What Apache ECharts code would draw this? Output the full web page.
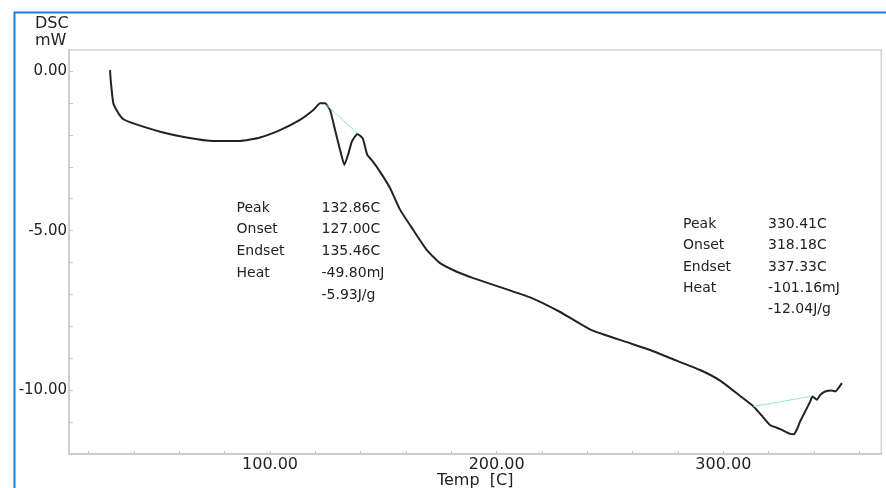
<!DOCTYPE html>
<html>
<head>
<meta charset="utf-8">
<script src="https://cdn.jsdelivr.net/npm/echarts@6/dist/echarts.min.js"></script>
<style>
html,body{margin:0;padding:0;background:#fff;}
#chart{width:886px;height:488px;}
</style>
</head>
<body>
<div id="chart"></div>
<script>
// ---- data ----
const temps = [29.4, 29.7, 30.85, 33.1, 35.3, 39.7, 51.5, 63.2, 75.0, 86.8, 95.6, 104.4, 113.2, 119.1, 122.1, 124.3, 126.5, 128.7, 130.9, 132.8, 134.6, 136.1, 138.5, 140.9, 142.9, 144.9, 148.5, 153.0, 157.4, 163.2, 169.2, 175.0, 182.4, 189.7, 201.5, 215.0, 228.0, 241.6, 256.7, 268.0, 276.7, 289.5, 298.6, 307.4, 313.3, 317.0, 320.6, 325.1, 329.5, 331.2, 332.4, 333.9, 336.1, 338.3, 339.3, 341.3, 342.7, 344.9, 347.9, 349.4, 352.3];
const dsc = [0.03, -0.28, -1.01, -1.32, -1.51, -1.64, -1.90, -2.08, -2.19, -2.19, -2.08, -1.85, -1.53, -1.22, -1.01, -1.01, -1.22, -1.85, -2.47, -2.94, -2.58, -2.21, -1.97, -2.11, -2.63, -2.79, -3.15, -3.67, -4.35, -4.98, -5.61, -6.02, -6.29, -6.49, -6.77, -7.10, -7.55, -8.11, -8.48, -8.75, -9.00, -9.36, -9.70, -10.18, -10.51, -10.80, -11.09, -11.22, -11.37, -11.38, -11.24, -10.98, -10.67, -10.36, -10.20, -10.30, -10.15, -10.04, -10.01, -10.04, -9.78];
const base1T = [125.0, 138.5];
const base1V = [-1.07, -1.95];
const base2T = [313.3, 339.0];
const base2V = [-10.51, -10.19];
const xTickLabels = [100, 200, 300];
const yTickLabels = [0, -5, -10];
const annNames = ['Peak', 'Onset', 'Endset', 'Heat', ''];
const ann1Values = ['132.86C', '127.00C', '135.46C', '-49.80mJ', '-5.93J/g'];
const ann2Values = ['330.41C', '318.18C', '337.33C', '-101.16mJ', '-12.04J/g'];
const yTitle = ['DSC', 'mW'];
const xTitle = 'Temp  [C]';

const FONT = '"DejaVu Sans", "Liberation Sans", Arial, sans-serif';
const zip = (a, b) => a.map((v, i) => [v, b[i]]);

const graphics = [];
graphics.push({type: 'rect', left: 12, top: 10, z: 100, silent: true,
  shape: {x: 0, y: 0, width: 900, height: 520},
  style: {fill: 'none', stroke: '#1f7ed2', lineWidth: 2}});
yTitle.forEach((t, i) => graphics.push({type: 'text', x: 35, y: 24 + i * 17,
  style: {text: t, font: '16px ' + FONT, fill: '#222', align: 'left', verticalAlign: 'middle'}}));
function block(x1, x2, y0, dy, values) {
  annNames.forEach((n, i) => {
    if (n) graphics.push({type: 'text', x: x1, y: y0 + i * dy,
      style: {text: n, font: '14px ' + FONT, fill: '#222', align: 'left', verticalAlign: 'middle'}});
    graphics.push({type: 'text', x: x2, y: y0 + i * dy,
      style: {text: values[i], font: '14px ' + FONT, fill: '#222', align: 'left', verticalAlign: 'middle'}});
  });
}
block(236.5, 321.5, 208, 21.8, ann1Values);
block(683, 768, 224.5, 21.3, ann2Values);

const chart = echarts.init(document.getElementById('chart'), null, {renderer: 'canvas'});
chart.setOption({
  animation: false,
  backgroundColor: '#fff',
  grid: {left: 69, top: 50, right: 4.7, bottom: 34, show: true, borderColor: '#d2d2d2', borderWidth: 1.5,
    containLabel: false, outerBoundsMode: 'none'},
  xAxis: {
    type: 'value', min: 11.3, max: 369.7, splitNumber: 18, minInterval: 20, maxInterval: 20,
    name: xTitle, nameLocation: 'middle', nameGap: 19, nameMoveOverlap: false,
    nameTextStyle: {fontFamily: FONT, fontSize: 16, color: '#222'},
    axisLine: {show: true, onZero: false, lineStyle: {color: '#c8c8c8', width: 1.5}},
    axisTick: {show: true, inside: true, length: 3, lineStyle: {color: '#c8c8c8'}},
    splitLine: {show: false},
    axisLabel: {margin: 3, fontFamily: FONT, fontSize: 16, color: '#222', showMinLabel: false, showMaxLabel: false,
      formatter: v => xTickLabels.some(t => Math.abs(t - v) < 1e-6) ? v.toFixed(2) : ''}
  },
  yAxis: {
    type: 'value', min: -12, max: 0.66, interval: 1,
    axisLine: {show: true, onZero: false, lineStyle: {color: '#c8c8c8', width: 1.5}},
    axisTick: {show: true, inside: true, length: 4, lineStyle: {color: '#c8c8c8'}},
    splitLine: {show: false},
    axisLabel: {margin: 2, fontFamily: FONT, fontSize: 15, color: '#222', showMaxLabel: false,
      formatter: v => yTickLabels.some(t => Math.abs(t - v) < 1e-6) ? (Math.abs(v) < 1e-9 ? '0.00' : v.toFixed(2)) : ''}
  },
  series: [
    {type: 'line', data: zip(base1T, base1V), symbol: 'none', lineStyle: {color: '#8fe3e6', width: 1}, z: 3},
    {type: 'line', data: zip(base2T, base2V), symbol: 'none', lineStyle: {color: '#8fe3e6', width: 1}, z: 3},
    {type: 'line', data: zip(temps, dsc), symbol: 'none', smooth: 0.15, lineStyle: {color: '#222', width: 2}, z: 2}
  ],
  graphic: graphics
});
</script>
</body>
</html>
